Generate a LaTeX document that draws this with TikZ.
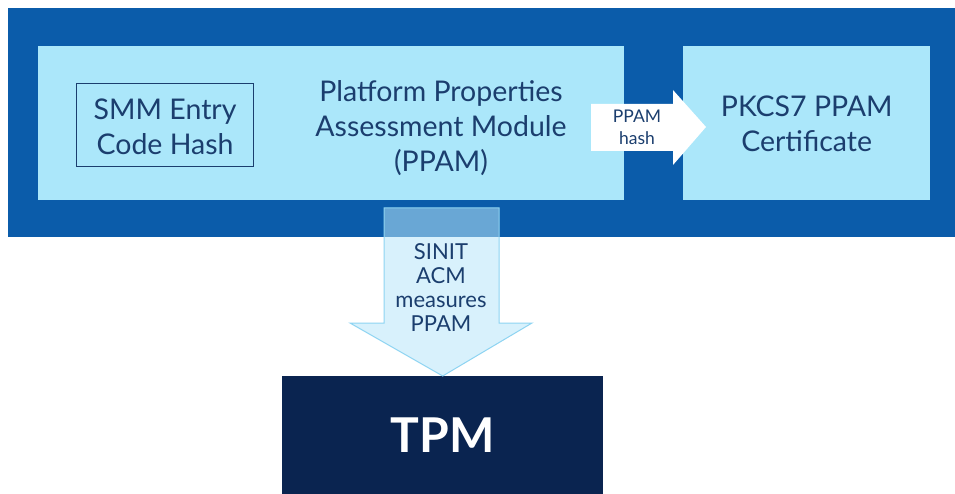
\documentclass[tikz,border=0pt]{standalone}
\usepackage{fontspec}
\setmainfont{Lato}
\definecolor{outerblue}{HTML}{0B5CAA}
\definecolor{lightbox}{HTML}{ABE7FA}
\definecolor{txtblue}{HTML}{1B3E6E}
\definecolor{tpmnavy}{HTML}{0A2450}
\definecolor{arrowfill}{HTML}{B8E6FA}
\definecolor{arrowline}{HTML}{8ED4F2}
\begin{document}
\begin{tikzpicture}[x=1pt,y=-1pt,
  panel/.style={fill=lightbox,draw=none,inner sep=0pt,anchor=north west},
  lbl/.style={text=txtblue,align=center,font=\fontsize{28.5}{35}\selectfont},
  small/.style={text=txtblue,align=center,font=\fontsize{17.5}{22}\selectfont},
  mid/.style={text=txtblue,align=center,font=\fontsize{22}{24}\selectfont}]
\useasboundingbox (0,0) rectangle (955,494);
\fill[white] (0,0) rectangle (955,494);
% outer frame
\node[fill=outerblue,inner sep=0pt,anchor=north west,minimum width=947pt,minimum height=229pt] (outer) at (8,8) {};
% PPAM panel
\node[panel,minimum width=586pt,minimum height=154pt] (ppam) at (38,46) {};
% PKCS7 panel
\node[panel,minimum width=247pt,minimum height=154pt] (pkcs) at (683,46) {};
% SMM box
\node[draw=txtblue,line width=1.2pt,inner sep=0pt,anchor=north west,minimum width=177pt,minimum height=83pt] (smm) at (76,83) {};
\node[lbl] (smmtxt) at ([yshift=-2pt]smm.center) {SMM Entry\\Code Hash};
\node[lbl] (ppamtxt) at (441,128) {Platform Properties\\Assessment Module\\(PPAM)};
\node[lbl] (pkcstxt) at ([yshift=-1pt]pkcs.center) {PKCS7 PPAM\\Certificate};
% TPM box
\node[fill=tpmnavy,inner sep=0pt,anchor=north west,minimum width=321pt,minimum height=118pt,text=white,font=\fontsize{48}{50}\selectfont\bfseries] (tpm) at (282,376) {TPM};
% white arrow PPAM hash
\fill[white] (591,104) -- (673,104) -- (673,90) -- (706,127) -- (673,165) -- (673,151) -- (591,151) -- cycle;
\node[small] (hashtxt) at (637,127) {PPAM\\hash};
% down arrow
\coordinate (tip) at (tpm.north);
\filldraw[fill=arrowfill,fill opacity=0.55,draw=arrowline,line width=1pt]
  (384,208) -- (499,208) -- (499,323) -- (532,323) -- (tip) -- (350,323) -- (384,323) -- cycle;
\node[mid] (sinit) at (441,288) {SINIT\\ACM\\measures\\PPAM};
\end{tikzpicture}
\end{document}
